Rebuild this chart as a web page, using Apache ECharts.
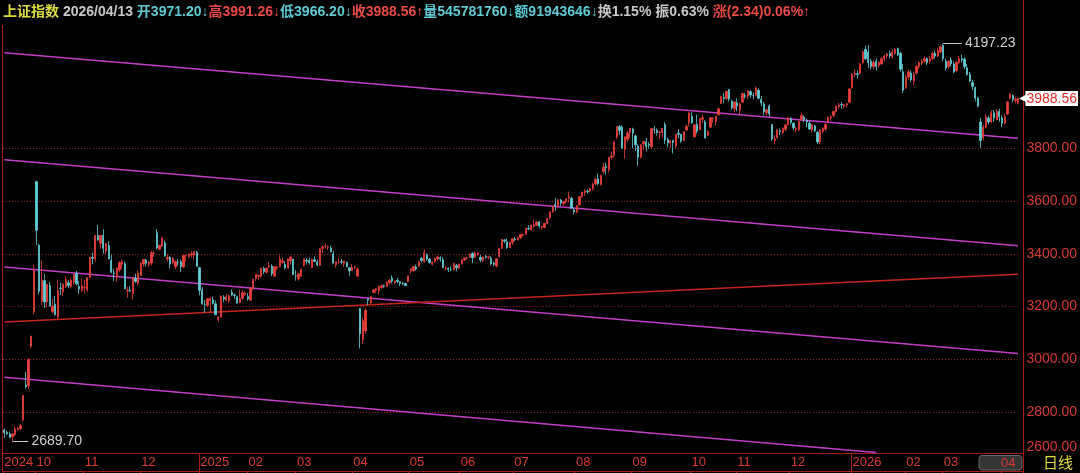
<!DOCTYPE html>
<html><head><meta charset="utf-8">
<script src="https://cdn.jsdelivr.net/npm/echarts@6/dist/echarts.min.js"></script>
<style>html,body{margin:0;padding:0;background:#000;}#c{width:1080px;height:473px;}</style>
</head><body><div id="c"></div>
<script>
// ---------- trading days per month ----------
const tradingDays = [
 ['2024/09',[11,12,13,18,19,20,23,24,25,26,27,30]],
 ['2024/10',[8,9,10,11,14,15,16,17,18,21,22,23,24,25,28,29,30,31]],
 ['2024/11',[1,4,5,6,7,8,11,12,13,14,15,18,19,20,21,22,25,26,27,28,29]],
 ['2024/12',[2,3,4,5,6,9,10,11,12,13,16,17,18,19,20,23,24,25,26,27,30,31]],
 ['2025/01',[2,3,6,7,8,9,10,13,14,15,16,17,20,21,22,23,24,27]],
 ['2025/02',[5,6,7,10,11,12,13,14,17,18,19,20,21,24,25,26,27,28]],
 ['2025/03',[3,4,5,6,7,10,11,12,13,14,17,18,19,20,21,24,25,26,27,28,31]],
 ['2025/04',[1,2,3,7,8,9,10,11,14,15,16,17,18,21,22,23,24,25,28,29,30]],
 ['2025/05',[6,7,8,9,12,13,14,15,16,19,20,21,22,23,26,27,28,29,30]],
 ['2025/06',[3,4,5,6,9,10,11,12,13,16,17,18,19,20,23,24,25,26,27,30]],
 ['2025/07',[1,2,3,4,7,8,9,10,11,14,15,16,17,18,21,22,23,24,25,28,29,30,31]],
 ['2025/08',[1,4,5,6,7,8,11,12,13,14,15,18,19,20,21,22,25,26,27,28,29]],
 ['2025/09',[1,2,3,4,5,8,9,10,11,12,15,16,17,18,19,22,23,24,25,26,29,30]],
 ['2025/10',[9,10,13,14,15,16,17,20,21,22,23,24,27,28,29,30,31]],
 ['2025/11',[3,4,5,6,7,10,11,12,13,14,17,18,19,20,21,24,25,26,27,28]],
 ['2025/12',[1,2,3,4,5,8,9,10,11,12,15,16,17,18,19,22,23,24,25,26,29,30,31]],
 ['2026/01',[5,6,7,8,9,12,13,14,15,16,19,20,21,22,23,26,27,28,29,30]],
 ['2026/02',[2,3,4,5,6,9,10,11,12,13,24,25,26,27]],
 ['2026/03',[2,3,4,5,6,9,10,11,12,13,16,17,18,19,20,23,24,25,26,27,30,31]],
 ['2026/04',[1,2,3,7,8,9,10,13]]
];
// ---------- daily candles [open, close, low, high] ----------
const k2409 = [[2732,2721,2701,2738],[2723,2717,2712,2730],[2716,2704,2700,2725],[2706,2717,2689.70,2720],[2714,2736,2708,2746],[2733,2736,2729,2744],[2737,2748,2731,2755],[2770,2863,2764,2863],[2902,2896,2889,2952],[2899,3000,2889,3000],[3049,3088,3040,3088],[3180,3336,3170,3358]];
const k2410 = [[3674,3489,3432,3674],[3433,3258,3246,3437],[3220,3301,3206,3374],[3298,3217,3194,3324],[3218,3284,3198,3284],[3279,3201,3201,3293],[3180,3202,3174,3230],[3209,3169,3166,3240],[3160,3261,3152,3300],[3270,3268,3243,3290],[3256,3285,3240,3288],[3275,3302,3270,3315],[3290,3280,3270,3300],[3276,3300,3268,3306],[3292,3322,3282,3323],[3325,3286,3280,3335],[3276,3266,3246,3296],[3262,3279,3255,3306]];
const k2411 = [[3271,3272,3250,3302],[3263,3310,3256,3310],[3310,3387,3308,3387],[3386,3383,3360,3405],[3380,3470,3370,3470],[3469,3452,3450,3509],[3440,3470,3418,3470],[3470,3421,3400,3493],[3410,3439,3398,3441],[3431,3380,3380,3448],[3375,3330,3326,3395],[3327,3324,3297,3343],[3311,3346,3292,3347],[3338,3367,3330,3372],[3360,3370,3343,3378],[3362,3267,3266,3370],[3260,3263,3233,3275],[3262,3259,3254,3278],[3248,3309,3227,3310],[3307,3295,3290,3325],[3288,3326,3280,3337]];
const k2412 = [[3318,3364,3318,3366],[3361,3379,3350,3380],[3376,3364,3352,3380],[3358,3368,3350,3372],[3365,3404,3355,3412],[3400,3402,3389,3410],[3480,3422,3417,3494],[3417,3432,3414,3433],[3429,3461,3425,3462],[3441,3391,3390,3450],[3380,3386,3370,3400],[3386,3361,3345,3391],[3366,3382,3360,3388],[3350,3371,3342,3375],[3368,3368,3355,3380],[3370,3352,3330,3378],[3350,3394,3345,3394],[3392,3393,3370,3397],[3390,3398,3383,3400],[3395,3400,3386,3411],[3394,3408,3377,3410],[3405,3352,3351,3412]];
const k2501 = [[3347,3262,3242,3351],[3262,3211,3206,3273],[3206,3206,3176,3225],[3204,3230,3198,3230],[3222,3230,3180,3235],[3226,3211,3208,3238],[3210,3169,3168,3223],[3150,3160,3141,3164],[3160,3240,3156,3240],[3235,3228,3216,3243],[3224,3236,3220,3247],[3222,3241,3213,3246],[3253,3244,3239,3265],[3244,3242,3228,3249],[3237,3213,3211,3240],[3215,3230,3213,3263],[3231,3252,3225,3263],[3245,3250,3240,3257]];
const k2502 = [[3238,3229,3222,3252],[3224,3270,3223,3271],[3268,3303,3262,3304],[3305,3322,3297,3322],[3315,3318,3300,3320],[3315,3346,3308,3346],[3344,3332,3323,3352],[3329,3346,3325,3348],[3351,3355,3346,3369],[3354,3324,3315,3360],[3315,3351,3313,3352],[3345,3350,3337,3353],[3352,3379,3347,3394],[3367,3373,3362,3384],[3360,3346,3340,3372],[3345,3380,3345,3382],[3373,3388,3359,3391],[3380,3321,3319,3380]];
const k2503 = [[3316,3316,3298,3338],[3305,3324,3298,3327],[3315,3342,3314,3342],[3356,3381,3352,3381],[3375,3372,3359,3384],[3375,3366,3359,3385],[3347,3379,3346,3379],[3377,3371,3369,3390],[3369,3358,3352,3379],[3356,3419,3355,3420],[3420,3426,3401,3432],[3427,3429,3420,3439],[3425,3426,3414,3431],[3422,3408,3405,3430],[3400,3364,3363,3410],[3359,3370,3347,3371],[3368,3369,3361,3383],[3370,3368,3360,3380],[3363,3373,3350,3374],[3367,3351,3349,3371],[3347,3336,3316,3347]];
const k2504 = [[3337,3348,3337,3361],[3347,3350,3340,3355],[3315,3342,3315,3347],[3193,3097,3041,3193],[3075,3146,3058,3157],[3107,3186,3096,3194],[3229,3224,3205,3230],[3213,3238,3209,3239],[3253,3263,3250,3267],[3262,3267,3250,3271],[3260,3276,3245,3279],[3272,3280,3268,3282],[3278,3277,3271,3283],[3276,3291,3275,3297],[3290,3300,3285,3304],[3308,3296,3288,3318],[3290,3297,3286,3299],[3299,3295,3288,3308],[3294,3288,3277,3295],[3289,3286,3280,3292],[3287,3279,3277,3290]];
const k2505 = [[3294,3316,3292,3317],[3335,3343,3325,3343],[3335,3352,3333,3354],[3350,3342,3336,3359],[3354,3370,3348,3373],[3382,3374,3369,3388],[3369,3404,3366,3417],[3396,3380,3373,3401],[3380,3367,3362,3384],[3360,3367,3355,3372],[3370,3381,3365,3384],[3380,3388,3375,3392],[3385,3380,3370,3391],[3377,3348,3346,3388],[3345,3346,3336,3353],[3344,3340,3331,3349],[3339,3339,3334,3352],[3338,3363,3338,3367],[3355,3347,3333,3361]];
const k2506 = [[3345,3361,3343,3362],[3362,3377,3360,3378],[3376,3384,3372,3386],[3383,3385,3378,3389],[3386,3399,3385,3401],[3401,3385,3364,3406],[3386,3402,3383,3410],[3397,3403,3393,3405],[3386,3377,3369,3395],[3375,3388,3368,3389],[3390,3387,3381,3396],[3386,3388,3378,3393],[3383,3362,3357,3391],[3364,3360,3352,3371],[3353,3381,3348,3383],[3389,3420,3389,3422],[3420,3455,3419,3456],[3452,3448,3440,3456],[3446,3424,3418,3458],[3423,3444,3422,3445]];
const k2507 = [[3443,3457,3433,3460],[3456,3454,3448,3464],[3452,3461,3450,3465],[3461,3473,3455,3474],[3470,3473,3465,3477],[3474,3497,3472,3498],[3496,3494,3490,3509],[3492,3509,3489,3511],[3504,3510,3498,3529],[3508,3520,3505,3524],[3521,3505,3496,3523],[3500,3503,3490,3507],[3500,3516,3497,3517],[3516,3534,3512,3536],[3537,3559,3530,3560],[3559,3581,3555,3582],[3587,3582,3562,3613],[3583,3605,3574,3606],[3604,3593,3582,3608],[3590,3597,3580,3600],[3598,3609,3590,3610],[3611,3615,3594,3636],[3610,3573,3571,3616]];
const k2508 = [[3566,3559,3550,3575],[3558,3583,3553,3583],[3585,3617,3583,3618],[3616,3634,3613,3635],[3632,3639,3620,3645],[3636,3635,3628,3645],[3638,3647,3634,3650],[3647,3665,3640,3669],[3666,3683,3660,3688],[3684,3666,3660,3704],[3663,3697,3659,3699],[3712,3729,3704,3746],[3731,3727,3700,3746],[3718,3766,3708,3766],[3766,3771,3757,3788],[3774,3825,3764,3826],[3842,3883,3836,3883],[3882,3868,3851,3888],[3880,3800,3798,3888],[3795,3843,3761,3845],[3834,3858,3826,3866]];
const k2509 = [[3860,3876,3839,3876],[3873,3858,3800,3878],[3847,3813,3790,3852],[3808,3766,3734,3815],[3766,3813,3761,3816],[3816,3826,3793,3828],[3825,3807,3788,3839],[3815,3812,3799,3823],[3806,3875,3798,3876],[3873,3871,3856,3885],[3868,3860,3848,3875],[3860,3861,3835,3867],[3860,3876,3840,3877],[3890,3831,3816,3899],[3833,3820,3804,3840],[3820,3829,3801,3830],[3830,3822,3780,3830],[3810,3853,3801,3855],[3857,3853,3837,3873],[3852,3828,3821,3855],[3829,3863,3829,3863],[3869,3883,3867,3890]];
const k2510 = [[3897,3934,3883,3937],[3920,3897,3892,3937],[3843,3889,3842,3891],[3891,3865,3856,3927],[3870,3912,3870,3913],[3910,3916,3896,3928],[3900,3839,3838,3907],[3850,3864,3846,3868],[3880,3916,3878,3917],[3911,3913,3897,3917],[3902,3922,3886,3922],[3927,3950,3926,3951],[3970,3996,3968,3999],[3993,3988,3970,4010],[3989,4016,3984,4016],[4022,3987,3977,4025],[3978,3954,3946,3985]];
const k2511 = [[3950,3976,3936,3976],[3972,3960,3940,3990],[3945,3969,3928,3974],[3975,4008,3972,4008],[4000,3997,3988,4010],[3997,4018,3985,4020],[4015,4002,3990,4020],[4000,4000,3986,4012],[4001,4029,3997,4035],[4020,3990,3985,4027],[3985,3972,3960,3999],[3968,3939,3925,3977],[3935,3946,3925,3950],[3960,3931,3920,3967],[3890,3835,3827,3891],[3829,3836,3815,3850],[3840,3870,3836,3871],[3867,3864,3850,3875],[3860,3875,3855,3880],[3872,3889,3865,3890]];
const k2512 = [[3890,3914,3887,3920],[3913,3898,3890,3918],[3895,3878,3868,3898],[3871,3875,3859,3882],[3870,3902,3865,3904],[3910,3924,3905,3936],[3918,3910,3898,3925],[3905,3900,3880,3913],[3895,3873,3870,3905],[3870,3889,3860,3892],[3885,3867,3860,3890],[3860,3824,3816,3866],[3825,3870,3815,3871],[3864,3876,3855,3880],[3873,3890,3865,3895],[3900,3917,3895,3920],[3915,3920,3905,3925],[3925,3940,3918,3942],[3940,3960,3935,3962],[3958,3964,3950,3972],[3966,3965,3950,3975],[3960,3965,3950,3970],[3964,3969,3955,3972]];
const k2601 = [[3975,4025,3970,4028],[4030,4080,4025,4085],[4080,4085,4070,4100],[4083,4080,4065,4095],[4085,4120,4080,4125],[4125,4165,4120,4170],[4175,4140,4135,4190],[4165,4125,4105,4192],[4130,4110,4100,4140],[4110,4125,4100,4135],[4130,4110,4095,4140],[4115,4125,4105,4130],[4120,4140,4115,4145],[4140,4150,4130,4155],[4150,4158,4140,4162],[4160,4150,4140,4170],[4148,4165,4140,4175],[4160,4175,4155,4180],[4178,4155,4150,4182],[4160,4100,4090,4165]];
const k2602 = [[4090,4020,4010,4120],[4030,4070,4025,4080],[4070,4090,4060,4100],[4085,4060,4050,4095],[4055,4080,4040,4090],[4085,4110,4080,4115],[4110,4125,4100,4130],[4125,4130,4115,4140],[4130,4140,4125,4150],[4140,4125,4115,4145],[4130,4140,4120,4150],[4140,4160,4135,4165],[4160,4150,4140,4170],[4150,4170,4145,4180]];
const k2603 = [[4165,4185,4160,4190],[4190,4140,4130,4197.23],[4130,4105,4095,4140],[4110,4130,4100,4135],[4135,4120,4110,4145],[4120,4090,4085,4130],[4095,4125,4090,4130],[4125,4140,4120,4150],[4140,4135,4125,4155],[4138,4110,4100,4145],[4105,4080,4075,4120],[4080,4055,4050,4090],[4050,4035,4020,4060],[4030,3990,3980,4035],[3990,3960,3955,3995],[3900,3830,3800,3915],[3840,3880,3830,3890],[3880,3920,3875,3930],[3915,3900,3890,3925],[3900,3935,3895,3945],[3935,3915,3900,3945],[3910,3940,3905,3950]];
const k2604 = [[3940,3920,3900,3950],[3915,3895,3880,3925],[3895,3920,3890,3930],[3930,3975,3925,3980],[3990,4005,3985,4010],[4000,3985,3975,4005],[3980,3986.22,3970,3995],[3971.20,3988.56,3966.20,3991.26]];
// ---------- drawn trend lines: [categoryIndex, value] endpoints ----------
const channelLine1 = [[0,4162],[379,3838]];
const channelLine2 = [[0,3757],[379,3430]];
const channelLine3 = [[0,3350],[379,3022]];
const channelLine4 = [[0,2932],[326,2646]];
const supportLine  = [[0,3141],[379,3322]];
// ---------- header extras ----------
const headerName = '上证指数';
const headerExtras = {vol:'545781760', amount:'91943646', turnover:'1.15%'};
// ---------- y tick labels ----------
const yMin = 2600, yMax = 4267.6, yStep = 200;
const hiddenTicks = [2600, 4000, 4200];

const monthCandles = [k2409,k2410,k2411,k2412,k2501,k2502,k2503,k2504,k2505,k2506,k2507,k2508,k2509,k2510,k2511,k2512,k2601,k2602,k2603,k2604];
const dates = [], candles = [], monthStart = {}, yearStart = {};
tradingDays.forEach(function(m, mi){
  const ym = m[0], ds = m[1];
  ds.forEach(function(d, di){
    const idx = dates.length;
    if (di === 0) {
      const mm = ym.slice(5);
      monthStart[idx] = (mi === 0 || mm === '01') ? ym.slice(0,4) : mm;
      if (mm === '01') yearStart[idx] = true;
    }
    dates.push(ym + '/' + String(d).padStart(2,'0'));
  });
  monthCandles[mi].forEach(function(c){ candles.push(c); });
});
const N = candles.length;
const last = candles[N-1], prev = candles[N-2];
let hiIdx = 0, loIdx = 0;
candles.forEach(function(c,i){ if (c[3] > candles[hiIdx][3]) hiIdx = i; if (c[2] < candles[loIdx][2]) loIdx = i; });
const chg = last[1] - prev[1];
const f2 = function(v){ return v.toFixed(2); };
const headerText = '{n|' + headerName + '} {d|' + dates[N-1] + '} ' +
  '{c|开' + f2(last[0]) + '↓}{r|高' + f2(last[3]) + '↓}{c|低' + f2(last[2]) + '↓}{r|收' + f2(last[1]) + '↑}' +
  '{c|量' + headerExtras.vol + '↓额' + headerExtras.amount + '↓}{w|换' + headerExtras.turnover + ' 振' +
  ((last[3]-last[2])/prev[1]*100).toFixed(2) + '%} {r|涨(' + f2(chg) + ')' + (chg/prev[1]*100).toFixed(2) + '%↑}';

const RED = '#e8403a', CYAN = '#62cdd6', MAG = '#c23ec6', AX = '#d83a34', GRIDC = '#9a1e1e', FRAME = '#a81c1c';
const FONT = '"Liberation Sans", Arial, "Noto Sans CJK SC", sans-serif';
const splitColors = [];
for (let v = yMin; v <= yMax; v += yStep) splitColors.push(hiddenTicks.indexOf(v) >= 0 ? 'rgba(0,0,0,0)' : GRIDC);

function lineSeries(d, color, w) {
  return {type:'line', data:d, xAxisIndex:0, yAxisIndex:0, symbol:'none', silent:true, z:3,
    lineStyle:{color:color, width:w}, animation:false};
}

const chart = echarts.init(document.getElementById('c'), null, {renderer:'canvas'});
chart.setOption({
  backgroundColor:'#000',
  animation:false,
  title:{ left:3, top:5, padding:0, text: headerText, textStyle:{ fontSize:14, fontFamily:FONT,
    rich:{ n:{color:'#dcdc3c', fontSize:14, fontFamily:FONT}, d:{color:'#c8c8c8', fontSize:14, fontFamily:FONT},
           c:{color:'#5ecbd2', fontSize:14, fontFamily:FONT}, r:{color:'#e84a44', fontSize:14, fontFamily:FONT},
           w:{color:'#c8c8c8', fontSize:14, fontFamily:FONT} } } },
  grid:[ {left:3, right:57, top:25, bottom:473-464.7},
         {left:3, right:57, top:453.5, height:18} ],
  xAxis:[
    {type:'category', gridIndex:0, data:dates, boundaryGap:true, show:false},
    {type:'category', gridIndex:1, data:dates, boundaryGap:true, position:'top',
     axisLine:{show:false},
     axisTick:{show:true, inside:true, length:5, interval:function(i){return monthStart[i] !== undefined;}, lineStyle:{color:FRAME}},
     splitLine:{show:true, interval:function(i){return yearStart[i] === true;}, lineStyle:{color:FRAME, width:1}},
     axisLabel:{show:true, inside:true, margin:9, verticalAlign:'middle', align:'left', color:AX, fontSize:13, fontFamily:FONT,
       interval:function(i){return monthStart[i] !== undefined;},
       formatter:function(v, i){ return monthStart[i] !== undefined ? monthStart[i] : ''; } } }
  ],
  yAxis:[
    {type:'value', gridIndex:0, position:'right', min:yMin, max:yMax, interval:yStep,
     axisLine:{show:false}, axisTick:{show:false},
     splitLine:{show:true, lineStyle:{color:splitColors, type:[1,2], width:1}},
     axisLabel:{color:AX, fontSize:14, fontFamily:FONT, margin:7, align:'left',
       showMaxLabel:false,
       formatter:function(v){ if (v === 2600) return '{lo|2600.00}'; return hiddenTicks.indexOf(v) >= 0 ? '' : v.toFixed(2); },
       rich:{lo:{color:AX, fontSize:14, fontFamily:FONT, padding:[0,0,35,0]}} } },
    {type:'value', gridIndex:1, show:false}
  ],
  series:[
    lineSeries(channelLine1, MAG, 1.5), lineSeries(channelLine2, MAG, 1.5), lineSeries(channelLine3, MAG, 1.5),
    lineSeries(channelLine4, MAG, 1.5), lineSeries(supportLine, '#c8241e', 1.5),
    {type:'candlestick', xAxisIndex:0, yAxisIndex:0, data:candles, barWidth:1.8, z:4, clip:false,
     itemStyle:{color:RED, color0:CYAN, borderColor:RED, borderColor0:CYAN, borderWidth:0.8},
     markLine:{silent:true, symbol:'none', animation:false,
       data:[
        [{coord:[hiIdx, candles[hiIdx][3]], lineStyle:{color:'#c8c8c8', width:1, type:'solid'},
          label:{show:true, position:'end', formatter:f2(candles[hiIdx][3]), color:'#d0d0d0', fontSize:14, fontFamily:FONT, distance:3}},
         {coord:[hiIdx+7, candles[hiIdx][3]]}],
        [{coord:[loIdx, candles[loIdx][2]], lineStyle:{color:'#c8c8c8', width:1, type:'solid'},
          label:{show:true, position:'end', formatter:f2(candles[loIdx][2]), color:'#d0d0d0', fontSize:14, fontFamily:FONT, distance:3}},
         {coord:[loIdx+6, candles[loIdx][2]]}]
       ]}},
    {type:'line', xAxisIndex:0, yAxisIndex:0, data:[], silent:true, z:6, clip:false,
     markLine:{silent:true, symbol:'none', animation:false,
       data:[ {yAxis:last[1], lineStyle:{color:'rgba(0,0,0,0)', width:0},
         label:{show:true, position:'end', distance:0, formatter:'{a|◀}{v|' + f2(last[1]) + '}',
           rich:{a:{color:'#ffffff', fontSize:10, padding:[0,-2,0,0]},
                 v:{color:'#e02a24', backgroundColor:'#ffffff', fontSize:14, fontFamily:FONT, padding:[1,1,0,1]}}}} ]}}
  ],
  graphic:[
    {type:'line', shape:{x1:2.5,y1:25,x2:2.5,y2:471.5}, style:{stroke:FRAME, lineWidth:1}, silent:true},
    {type:'line', shape:{x1:1023.5,y1:0,x2:1023.5,y2:473}, style:{stroke:FRAME, lineWidth:1}, silent:true},
    {type:'line', shape:{x1:2,y1:453.5,x2:1023.5,y2:453.5}, style:{stroke:FRAME, lineWidth:1}, silent:true},
    {type:'line', shape:{x1:2,y1:471.5,x2:1023.5,y2:471.5}, style:{stroke:FRAME, lineWidth:1}, silent:true},
    {type:'rect', shape:{x:979, y:455.5, width:43, height:14.5, r:3}, style:{fill:'#353535', stroke:'#6a6a6a', lineWidth:1}, silent:true, z:10},
    {type:'text', x:1001, y:463, style:{text:'04', fill:AX, font:'13px ' + FONT, textAlign:'left', textVerticalAlign:'middle'}, silent:true, z:11},
    {type:'text', x:1043, y:462.5, style:{text:'日线', fill:'#dcdc3c', font:'15px "Noto Sans CJK SC", sans-serif', textAlign:'left', textVerticalAlign:'middle'}, silent:true, z:11}
  ]
});
</script></body></html>
